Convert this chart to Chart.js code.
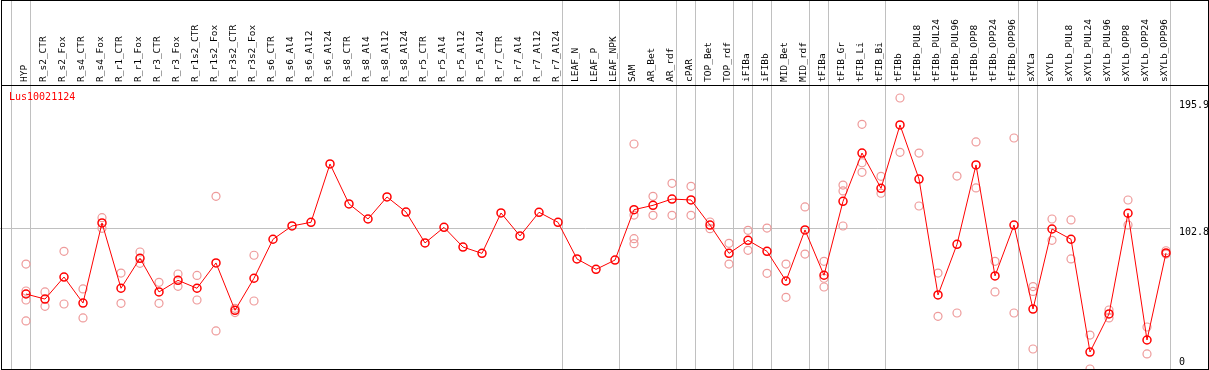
<!DOCTYPE html>
<html>
<head>
<meta charset="utf-8">
<script src="https://cdn.jsdelivr.net/npm/chart.js@4"></script>
<style>
html,body{margin:0;padding:0;background:#fff;}
#wrap{width:1209px;height:370px;}
</style>
</head>
<body>
<div id="wrap"><canvas id="c" width="1209" height="370"></canvas></div>
<script>
const title = "Lus10021124";
const categories = ["HYP","R_s2_CTR","R_s2_Fox","R_s4_CTR","R_s4_Fox","R_r1_CTR","R_r1_Fox","R_r3_CTR","R_r3_Fox","R_r1s2_CTR","R_r1s2_Fox","R_r3s2_CTR","R_r3s2_Fox","R_s6_CTR","R_s6_Al4","R_s6_Al12","R_s6_Al24","R_s8_CTR","R_s8_Al4","R_s8_Al12","R_s8_Al24","R_r5_CTR","R_r5_Al4","R_r5_Al12","R_r5_Al24","R_r7_CTR","R_r7_Al4","R_r7_Al12","R_r7_Al24","LEAF_N","LEAF_P","LEAF_NPK","SAM","AR_Bet","AR_rdf","cPAR","TOP_Bet","TOP_rdf","iFIBa","iFIBb","MID_Bet","MID_rdf","tFIBa","tFIB_Gr","tFIB_Li","tFIB_Bi","tFIBb","tFIBb_PUL8","tFIBb_PUL24","tFIBb_PUL96","tFIBb_OPP8","tFIBb_OPP24","tFIBb_OPP96","sXYLa","sXYLb","sXYLb_PUL8","sXYLb_PUL24","sXYLb_PUL96","sXYLb_OPP8","sXYLb_OPP24","sXYLb_OPP96"];
const means = [54.8,51.1,67.2,48.2,106.7,59.0,80.9,56.3,64.8,59.0,77.5,42.9,66.3,94.8,104.5,107.2,149.8,120.6,109.6,125.7,114.7,92.1,103.5,89.1,84.5,114.0,97.2,114.5,107.2,80.4,72.8,79.6,116.4,119.6,124.2,123.5,105.2,84.5,94.0,86.0,64.3,101.6,68.5,122.5,157.8,132.0,178.3,138.8,54.1,91.1,149.1,68.0,105.2,43.8,102.3,94.8,12.4,40.2,113.8,21.2,84.8];
const repA = [76.7,56.3,86,58.5,110.6,70.1,85.5,63.3,69.4,68.4,126.2,44.3,83.1,null,null,null,null,null,null,null,null,null,null,null,null,null,null,null,null,null,null,null,164.4,126.2,135.7,133.5,107.4,91.8,101.3,103,76.7,118.4,78.7,134.4,178.8,140.8,198,157.8,70.1,141,165.9,78.7,168.8,60.2,109.6,108.9,24.8,43.1,123.5,30.7,86.4];
const repB = [57,45.8,47.5,37.3,102.8,48,77.2,48,60.4,50.4,27.8,41.2,49.7,null,null,null,null,null,null,null,null,null,null,null,null,null,null,null,null,null,null,null,112.5,112.3,112.3,112.3,102.5,76.7,86.7,69.9,52.4,84,66.3,130.1,150.7,128.4,158.3,119.1,38.5,40.9,132.3,56.3,40.9,56.7,94,80.4,0,37.3,105.2,11,84];
const repC = [50.4,null,null,null,null,null,null,null,null,null,null,null,null,null,null,null,null,null,null,null,null,null,null,null,null,null,null,null,null,null,null,null,95.2,null,null,null,null,null,null,null,null,null,59.9,104.5,143.7,null,null,null,null,null,null,null,null,14.6,null,null,null,null,null,null,null];
const repD = [35.1,null,null,null,null,null,null,null,null,null,null,null,null,null,null,null,null,null,null,null,null,null,null,null,null,null,null,null,null,null,null,null,91.6,null,null,null,null,null,null,null,null,null,null,null,null,null,null,null,null,null,null,null,null,null,null,null,null,null,null,null,null];
const groupEnds = [-1,0,28,31,34,35,37,38,39,41,42,45,52,53,60];
const yTicks = [195.9,102.8,0];
const yGridValues = [102.8];

const toPts = arr => arr.map((v,i)=>v===null?null:{x:i,y:v}).filter(p=>p);
const reps = toPts(repA).concat(toPts(repB), toPts(repC), toPts(repD));

const MONO = '"DejaVu Sans Mono", "Liberation Mono", monospace';

const decor = {
  id:'decor',
  beforeDatasetsDraw(chart){
    const {ctx} = chart;
    const xs = chart.scales.x, ys = chart.scales.y;
    ctx.save();
    ctx.strokeStyle = '#c0c0c0';
    ctx.lineWidth = 1;
    groupEnds.forEach(g=>{
      const px = Math.round(xs.getPixelForValue(g+0.25)) - 0.5;
      ctx.beginPath(); ctx.moveTo(px,0); ctx.lineTo(px,369); ctx.stroke();
    });
    const right = Math.round(xs.getPixelForValue(60.25)) - 0.5;
    yGridValues.forEach(v=>{
      const py = Math.round(ys.getPixelForValue(v)) + 0.5;
      ctx.beginPath(); ctx.moveTo(0,py); ctx.lineTo(right,py); ctx.stroke();
    });
    ctx.restore();
  },
  afterDraw(chart){
    const {ctx} = chart;
    const xs = chart.scales.x, ys = chart.scales.y;
    ctx.save();
    ctx.strokeStyle = '#000';
    ctx.lineWidth = 1;
    ctx.strokeRect(1.5,0.5,1207,369);
    ctx.beginPath(); ctx.moveTo(1,85.5); ctx.lineTo(1209,85.5); ctx.stroke();
    ctx.fillStyle = '#000';
    ctx.font = '9.5px ' + MONO;
    ctx.textAlign = 'left';
    ctx.textBaseline = 'middle';
    categories.forEach((c,i)=>{
      const px = xs.getPixelForValue(i) - 1.5;
      ctx.save();
      ctx.translate(px, 82);
      ctx.rotate(-Math.PI/2);
      ctx.fillText(c, 0, 0);
      ctx.restore();
    });
    ctx.font = '10px ' + MONO;
    ctx.textBaseline = 'middle';
    yTicks.forEach(v=>{
      const py = Math.min(ys.getPixelForValue(v) + 4.5, 362);
      ctx.fillText(String(v), 1179, py);
    });
    ctx.fillStyle = '#ff0000';
    ctx.font = '10px ' + MONO;
    ctx.textBaseline = 'middle';
    ctx.fillText(title, 9, 97);
    ctx.restore();
  }
};

new Chart(document.getElementById('c'), {
  type:'line',
  data:{
    datasets:[
      {
        label:'mean',
        data: means.map((v,i)=>({x:i,y:v})),
        borderColor:'#ff0000',
        borderWidth:1,
        backgroundColor:'rgba(0,0,0,0)',
        pointRadius:4,
        pointBorderWidth:1.5,
        pointBorderColor:'#ff0000',
        pointBackgroundColor:'rgba(0,0,0,0)',
        pointStyle:'circle',
        tension:0,
        order:1
      },
      {
        label:'replicates',
        data: reps,
        showLine:false,
        borderColor:'#ee9a9a',
        pointRadius:4,
        pointBorderWidth:1.2,
        pointBorderColor:'#ee9a9a',
        pointBackgroundColor:'rgba(0,0,0,0)',
        order:2
      }
    ]
  },
  options:{
    responsive:false,
    animation:false,
    layout:{padding:0, autoPadding:false},
    plugins:{legend:{display:false}, tooltip:{enabled:false}, title:{display:false}},
    scales:{
      x:{type:'linear', display:false, min:-26/19, max:(1209-26)/19},
      y:{type:'linear', display:false, min:-1/1.3686, max:(370-1)/1.3686}
    }
  },
  plugins:[decor]
});
</script>
</body>
</html>
